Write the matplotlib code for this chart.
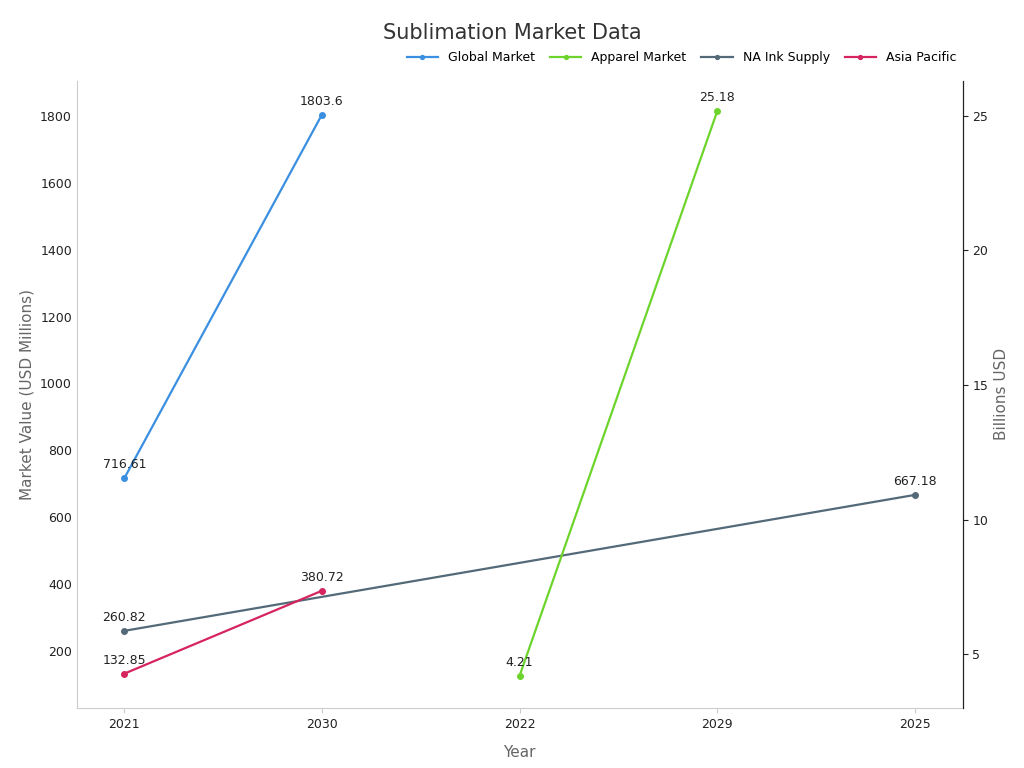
import matplotlib
matplotlib.use("Agg")
import matplotlib.pyplot as plt

categories = ["2021", "2030", "2022", "2029", "2025"]
global_x = ["2021", "2030"]; global_v = [716.61, 1803.6]
apparel_x = ["2022", "2029"]; apparel_v = [4.21, 25.18]
na_x = ["2021", "2025"]; na_v = [260.82, 667.18]
asia_x = ["2021", "2030"]; asia_v = [132.85, 380.72]

idx = {c: i for i, c in enumerate(categories)}
fig, ax = plt.subplots(figsize=(10.24, 7.68), dpi=100)
fig.subplots_adjust(left=0.075, right=0.94, top=0.895, bottom=0.078)
ax2 = ax.twinx()

def plot(a, xs, vs, color, label, fmt):
    x = [idx[c] for c in xs]
    h, = a.plot(x, vs, color=color, marker='o', ms=4, lw=1.6, label=label)
    for xi, v in zip(x, vs):
        a.annotate(fmt(v), (xi, v), xytext=(0, 5), textcoords='offset points',
                   ha='center', va='bottom', fontsize=9, color='#222222')
    return h

fmt = lambda v: f"{v:g}"
h1 = plot(ax, global_x, global_v, '#3b8fe0', 'Global Market', fmt)
h2 = plot(ax2, apparel_x, apparel_v, '#6dd42c', 'Apparel Market', fmt)
h3 = plot(ax, na_x, na_v, '#546a78', 'NA Ink Supply', fmt)
h4 = plot(ax, asia_x, asia_v, '#d6245e', 'Asia Pacific', fmt)

ax.set_xticks(range(len(categories)))
ax.set_xticklabels(categories)
ax.set_xlim(-0.24, 4.24)
ax.set_ylim(30, 1905)
ax.set_yticks(range(200, 1801, 200))
ax2.set_ylim(3.0, 26.3)
ax2.set_yticks([5, 10, 15, 20, 25])
ax.set_xlabel("Year", color='#666666', fontsize=11, labelpad=10)
ax.set_ylabel("Market Value (USD Millions)", color='#666666', fontsize=11)
ax2.set_ylabel("Billions USD", color='#666666', fontsize=11)
for a in (ax, ax2):
    a.spines['top'].set_visible(False)
    a.tick_params(labelsize=9, colors='#222222')
ax.spines['left'].set_color('#cccccc')
ax.spines['bottom'].set_color('#cccccc')
ax2.spines['left'].set_visible(False)
ax2.spines['bottom'].set_visible(False)
ax2.spines['right'].set_color('#222222')
ax.tick_params(axis='y', length=0)
ax.tick_params(axis='x', color='#cccccc')
fig.suptitle("Sublimation Market Data", fontsize=15, color='#333333', y=0.97)
fig.legend([h1, h2, h3, h4], ['Global Market', 'Apparel Market', 'NA Ink Supply', 'Asia Pacific'],
           loc='upper right', bbox_to_anchor=(0.945, 0.948), ncol=4, frameon=False,
           fontsize=9, handlelength=2.5, columnspacing=1.2, markerscale=0.7)
fig.savefig("out.png")
